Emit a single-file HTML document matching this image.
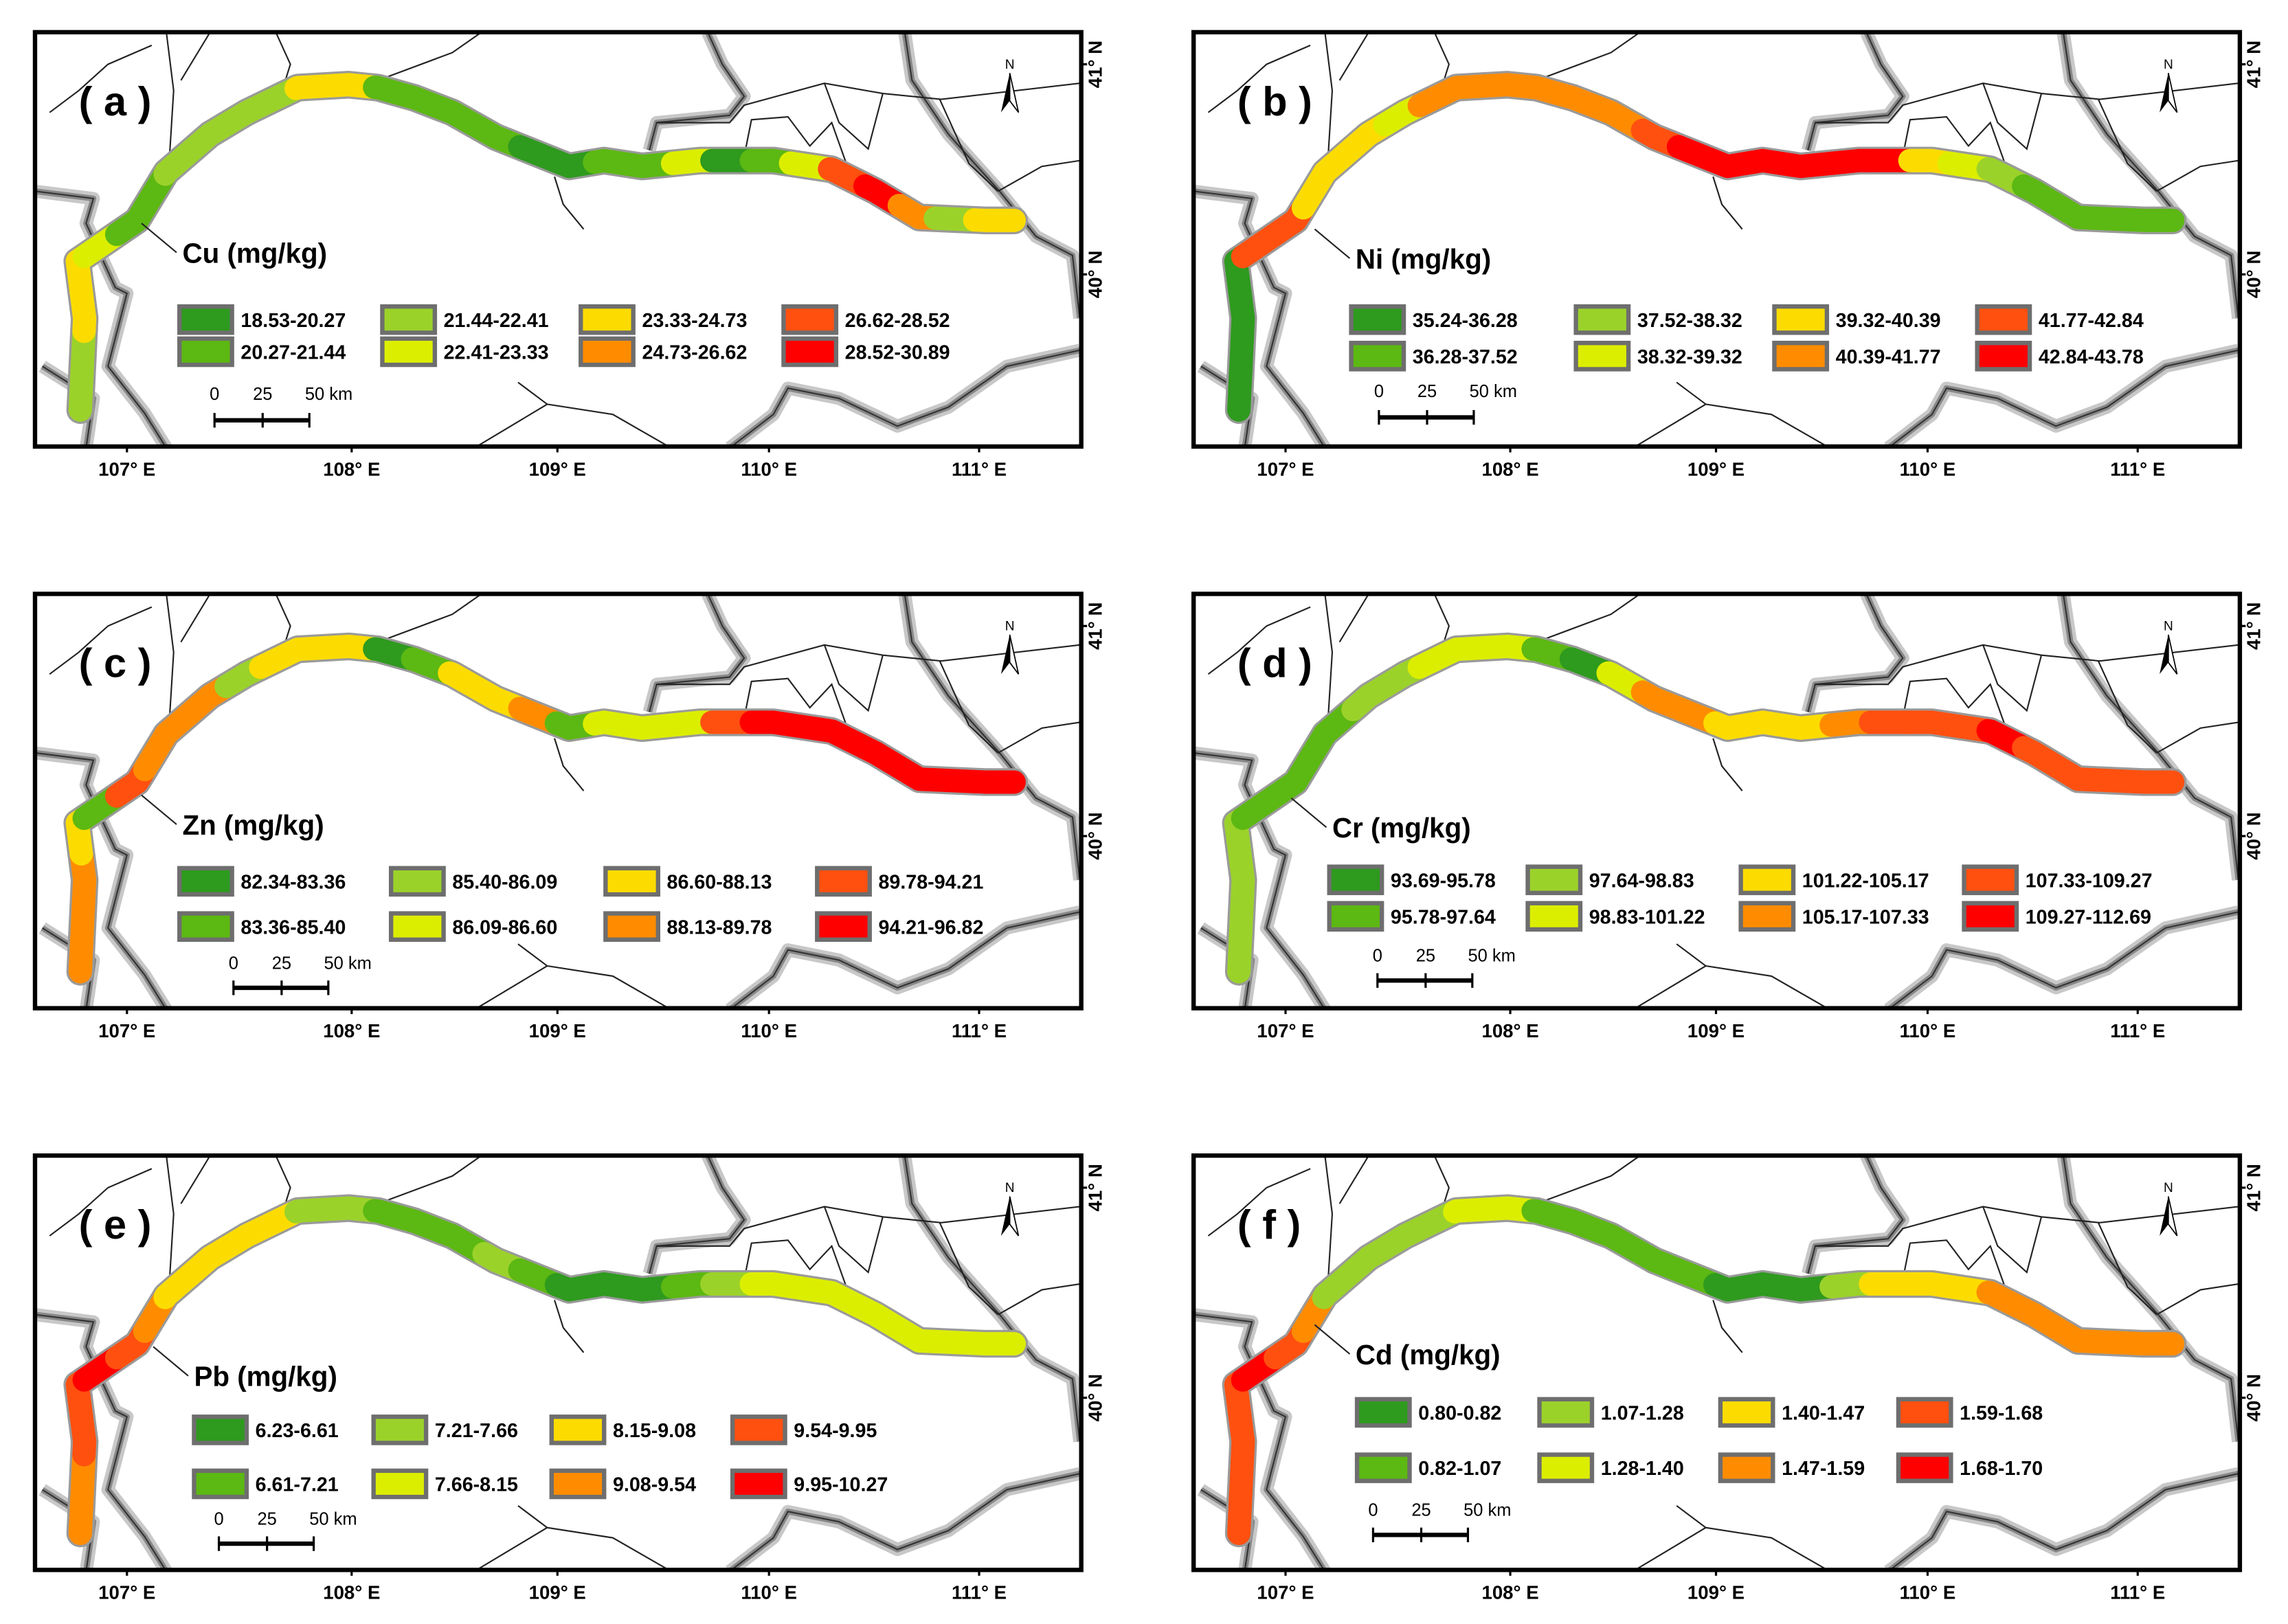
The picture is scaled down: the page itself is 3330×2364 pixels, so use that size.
<!DOCTYPE html>
<html><head><meta charset="utf-8"><style>
html,body{margin:0;padding:0;background:#fff;}
svg{display:block;}
text{font-family:"Liberation Sans",sans-serif;}
</style></head><body>
<svg id="fig" xmlns="http://www.w3.org/2000/svg" width="3330" height="2364" viewBox="0 0 1568 1113"></svg>
<script>
const colors=["#2e9a1e","#5cb812","#9bd22a","#dcee00","#fcdc00","#ff8c00","#ff5010","#ff0000"];
const panelLetters=["a","b","c","d","e","f"];
const metalNames=["Cu","Ni","Zn","Cr","Pb","Cd"];
const classLabelsA=["18.53-20.27","20.27-21.44","21.44-22.41","22.41-23.33","23.33-24.73","24.73-26.62","26.62-28.52","28.52-30.89"];
const classLabelsB=["35.24-36.28","36.28-37.52","37.52-38.32","38.32-39.32","39.32-40.39","40.39-41.77","41.77-42.84","42.84-43.78"];
const classLabelsC=["82.34-83.36","83.36-85.40","85.40-86.09","86.09-86.60","86.60-88.13","88.13-89.78","89.78-94.21","94.21-96.82"];
const classLabelsD=["93.69-95.78","95.78-97.64","97.64-98.83","98.83-101.22","101.22-105.17","105.17-107.33","107.33-109.27","109.27-112.69"];
const classLabelsE=["6.23-6.61","6.61-7.21","7.21-7.66","7.66-8.15","8.15-9.08","9.08-9.54","9.54-9.95","9.95-10.27"];
const classLabelsF=["0.80-0.82","0.82-1.07","1.07-1.28","1.28-1.40","1.40-1.47","1.47-1.59","1.59-1.68","1.68-1.70"];
const segClassA=[2,2,4,4,3,1,1,2,2,2,2,4,4,1,1,1,1,0,0,1,1,3,0,1,3,6,7,5,2,4];
const segClassB=[0,0,0,0,6,6,4,4,4,3,5,5,5,5,5,5,6,7,7,7,7,7,7,4,3,2,1,1,1,1];
const segClassC=[5,5,5,4,1,6,5,5,5,2,4,4,4,0,1,4,4,5,1,3,3,3,6,7,7,7,7,7,7,7];
const segClassD=[2,2,2,2,1,1,1,1,2,2,3,3,3,1,0,3,5,5,4,4,4,5,6,6,6,7,6,6,6,6];
const segClassE=[5,5,6,6,7,6,5,4,4,4,4,2,2,1,1,1,2,1,0,0,0,1,2,3,3,3,3,3,3,3];
const segClassF=[6,6,6,6,7,6,5,2,2,2,2,3,3,1,1,1,1,1,0,0,0,2,4,4,4,5,5,5,5,5];
const xTicks=["107° E","108° E","109° E","110° E","111° E"];
const yTicks=["41° N","40° N"];

const NS="http://www.w3.org/2000/svg";
const fig=document.getElementById('fig');
function mk(tag,attrs,parent){const e=document.createElementNS(NS,tag);for(const k in attrs)e.setAttribute(k,attrs[k]);(parent||fig).appendChild(e);return e;}
const labelSets=[classLabelsA,classLabelsB,classLabelsC,classLabelsD,classLabelsE,classLabelsF];
const segSets=[segClassA,segClassB,segClassC,segClassD,segClassE,segClassF];
const origins=[[24,22],[818,22],[24,407],[818,407],[24,792],[818,792]];
const W=717,H=284;
const river=[[31,259],[34,196],[29,157],[70,129],[90,96],[120,70],[145,55],[180,38],[215,36],[235,38],[260,45],[286,55],[316,72],[366,92],[390,88],[416,92],[456,88],[506,88],[546,94],[576,109],[606,127],[651,129],[671,129]];
const greyLines=[
[[0,109],[40,114],[35,131],[55,175],[63,179],[50,229],[75,261],[90,285]],
[[5,229],[40,251],[35,285]],
[[461,0],[471,22],[486,44],[476,57],[426,62],[421,81]],
[[596,0],[601,33],[626,70],[661,109],[686,140],[711,153],[716,196]],
[[476,285],[506,262],[516,244],[551,251],[591,270],[626,257],[666,229],[716,218]]];
const blackLines=[
[[90,0],[95,40],[92,88]],[[120,0],[100,33]],[[165,0],[175,22],[170,38]],
[[306,0],[286,14],[235,33]],[[356,99],[362,118],[376,135]],
[[331,240],[351,255],[396,262],[436,285]],[[301,285],[351,255]],
[[10,55],[30,40],[50,22],[80,9]],[[426,62],[476,62],[486,50],[541,35],[581,42],[621,46],[716,35]],
[[486,85],[491,60],[516,58],[531,78],[546,62],[556,90]],[[620,46],[640,90],[660,109]],
[[660,109],[690,92],[716,88]],[[541,35],[551,62],[571,80],[581,42]]];
const legendPos=[
 {t:[101,151],r:[197,219],b:[99,238,374,513],s:[123,248,266]},
 {t:[111,155],r:[197,222],b:[108,262,398,537],s:[127,246,264]},
 {t:[101,158],r:[197,228],b:[99,244,391,536],s:[136,253,270]},
 {t:[95,160],r:[196,221],b:[93,229,375,528],s:[126,248,265]},
 {t:[109,151],r:[188,225],b:[109,232,354,478],s:[126,249,266]},
 {t:[111,136],r:[176,214],b:[112,237,361,483],s:[123,243,260]}];
const xTickPos=[63,217,358,503,647];
const yTickPos=[22,166];

function pl(pts){return pts.map(p=>p.join(',')).join(' ');}
const cum=[0];for(let i=1;i<river.length;i++){const dx=river[i][0]-river[i-1][0],dy=river[i][1]-river[i-1][1];cum.push(cum[i-1]+Math.hypot(dx,dy));}
const total=cum[cum.length-1];
function ptAt(s){for(let i=1;i<river.length;i++){if(s<=cum[i]){const f=(s-cum[i-1])/(cum[i]-cum[i-1]||1);return [river[i-1][0]+f*(river[i][0]-river[i-1][0]),river[i-1][1]+f*(river[i][1]-river[i-1][1])];}}return river[river.length-1];}
function subPath(s0,s1){const pts=[ptAt(s0)];for(let i=0;i<river.length;i++)if(cum[i]>s0&&cum[i]<s1)pts.push(river[i]);pts.push(ptAt(s1));return pts;}

origins.forEach((o,pi)=>{
 const g=mk('g',{transform:`translate(${o[0]},${o[1]})`});
 
 
 const clip=mk('clipPath',{id:'cl'+pi},g);mk('rect',{x:0,y:0,width:W,height:H},clip);
 const m=mk('g',{'clip-path':`url(#cl${pi})`},g);
 greyLines.forEach(l=>{mk('polyline',{points:pl(l),fill:'none',stroke:'#c8c8c8','stroke-width':9,'stroke-linejoin':'round'},m);mk('polyline',{points:pl(l),fill:'none',stroke:'#888','stroke-width':4,'stroke-linejoin':'round'},m);mk('polyline',{points:pl(l),fill:'none',stroke:'#333','stroke-width':1},m);});
 blackLines.forEach(l=>{const e=mk('polyline',{points:pl(l),fill:'none',stroke:'#222','stroke-width':1},m);});
 const halo=mk('polyline',{points:pl(river),fill:'none',stroke:'#9a9a9a','stroke-width':19,'stroke-linejoin':'round','stroke-linecap':'round'},m);
 
 const segs=segSets[pi];const n=segs.length;const L=total/n;
 segs.forEach((c,si)=>{const e=mk('polyline',{points:pl(subPath(si*L,(si+1)*L)),fill:'none',stroke:colors[c],'stroke-width':16,'stroke-linejoin':'round','stroke-linecap':'round'},m);
  });
 const fr=mk('rect',{x:0,y:0,width:W,height:H,fill:'none',stroke:'#000','stroke-width':3},g);
 
 const pl2=mk('text',{x:30,y:57,'font-size':28,'font-weight':'bold','font-family':'"Liberation Serif",serif'},g);pl2.textContent='( '+panelLetters[pi]+' )';
 
 const na=mk('g',{},g);
 mk('path',{d:'M668,28 L662,55 L668,47 Z',fill:'#000'},na);mk('path',{d:'M668,28 L674,55 L668,47 Z',fill:'#fff',stroke:'#000','stroke-width':0.8},na);
 const nt=mk('text',{x:668,y:25,'font-size':9,'text-anchor':'middle'},na);nt.textContent='N';
 const lp=legendPos[pi];
 const tt=mk('text',{x:lp.t[0],y:lp.t[1]+7,'font-size':19,'font-weight':'bold'},g);tt.textContent=metalNames[pi]+' (mg/kg)';
 
 mk('polyline',{points:pl([[lp.t[0]-4,lp.t[1]],[lp.t[0]-28,lp.t[1]-20]]),fill:'none',stroke:'#222','stroke-width':1},g);
 labelSets[pi].forEach((lab,k)=>{const col=Math.floor(k/2),row=k%2;const bx=lp.b[col],by=lp.r[row];
  const r=mk('rect',{x:bx,y:by-9,width:36,height:18,fill:colors[k],stroke:'#6e6e6e','stroke-width':3},g);
  
  const t=mk('text',{x:bx+42,y:by+5,'font-size':13.5,'font-weight':'bold'},g);t.textContent=lab;
  });
 const s=lp.s;const sb=mk('g',{},g);
 [['0',0],['25',33],['50 km',65]].forEach(([tx,dx],k)=>{const t=mk('text',{x:s[0]+dx-(k==2?3:0),y:s[1]+4,'font-size':12,'text-anchor':k==2?'start':'middle'},sb);t.textContent=tx;});
 mk('line',{x1:s[0],y1:s[2],x2:s[0]+65,y2:s[2],stroke:'#000','stroke-width':3},sb);
 [0,33,65].forEach(dx=>mk('line',{x1:s[0]+dx,y1:s[2]-5,x2:s[0]+dx,y2:s[2]+5,stroke:'#000','stroke-width':1.5},sb));
 xTicks.forEach((lab,k)=>{mk('line',{x1:xTickPos[k],y1:H,x2:xTickPos[k],y2:H+4,stroke:'#000','stroke-width':1.5},g);
  const t=mk('text',{x:xTickPos[k],y:H+20,'font-size':13,'font-weight':'bold','text-anchor':'middle'},g);t.textContent=lab;
  });
 yTicks.forEach((lab,k)=>{mk('line',{x1:W,y1:yTickPos[k],x2:W+4,y2:yTickPos[k],stroke:'#000','stroke-width':1.5},g);
  const t=mk('text',{x:0,y:0,'font-size':13,'font-weight':'bold','text-anchor':'middle',transform:`translate(${W+14},${yTickPos[k]}) rotate(-90)`},g);t.textContent=lab;
  });
});
</script>
</body></html>
